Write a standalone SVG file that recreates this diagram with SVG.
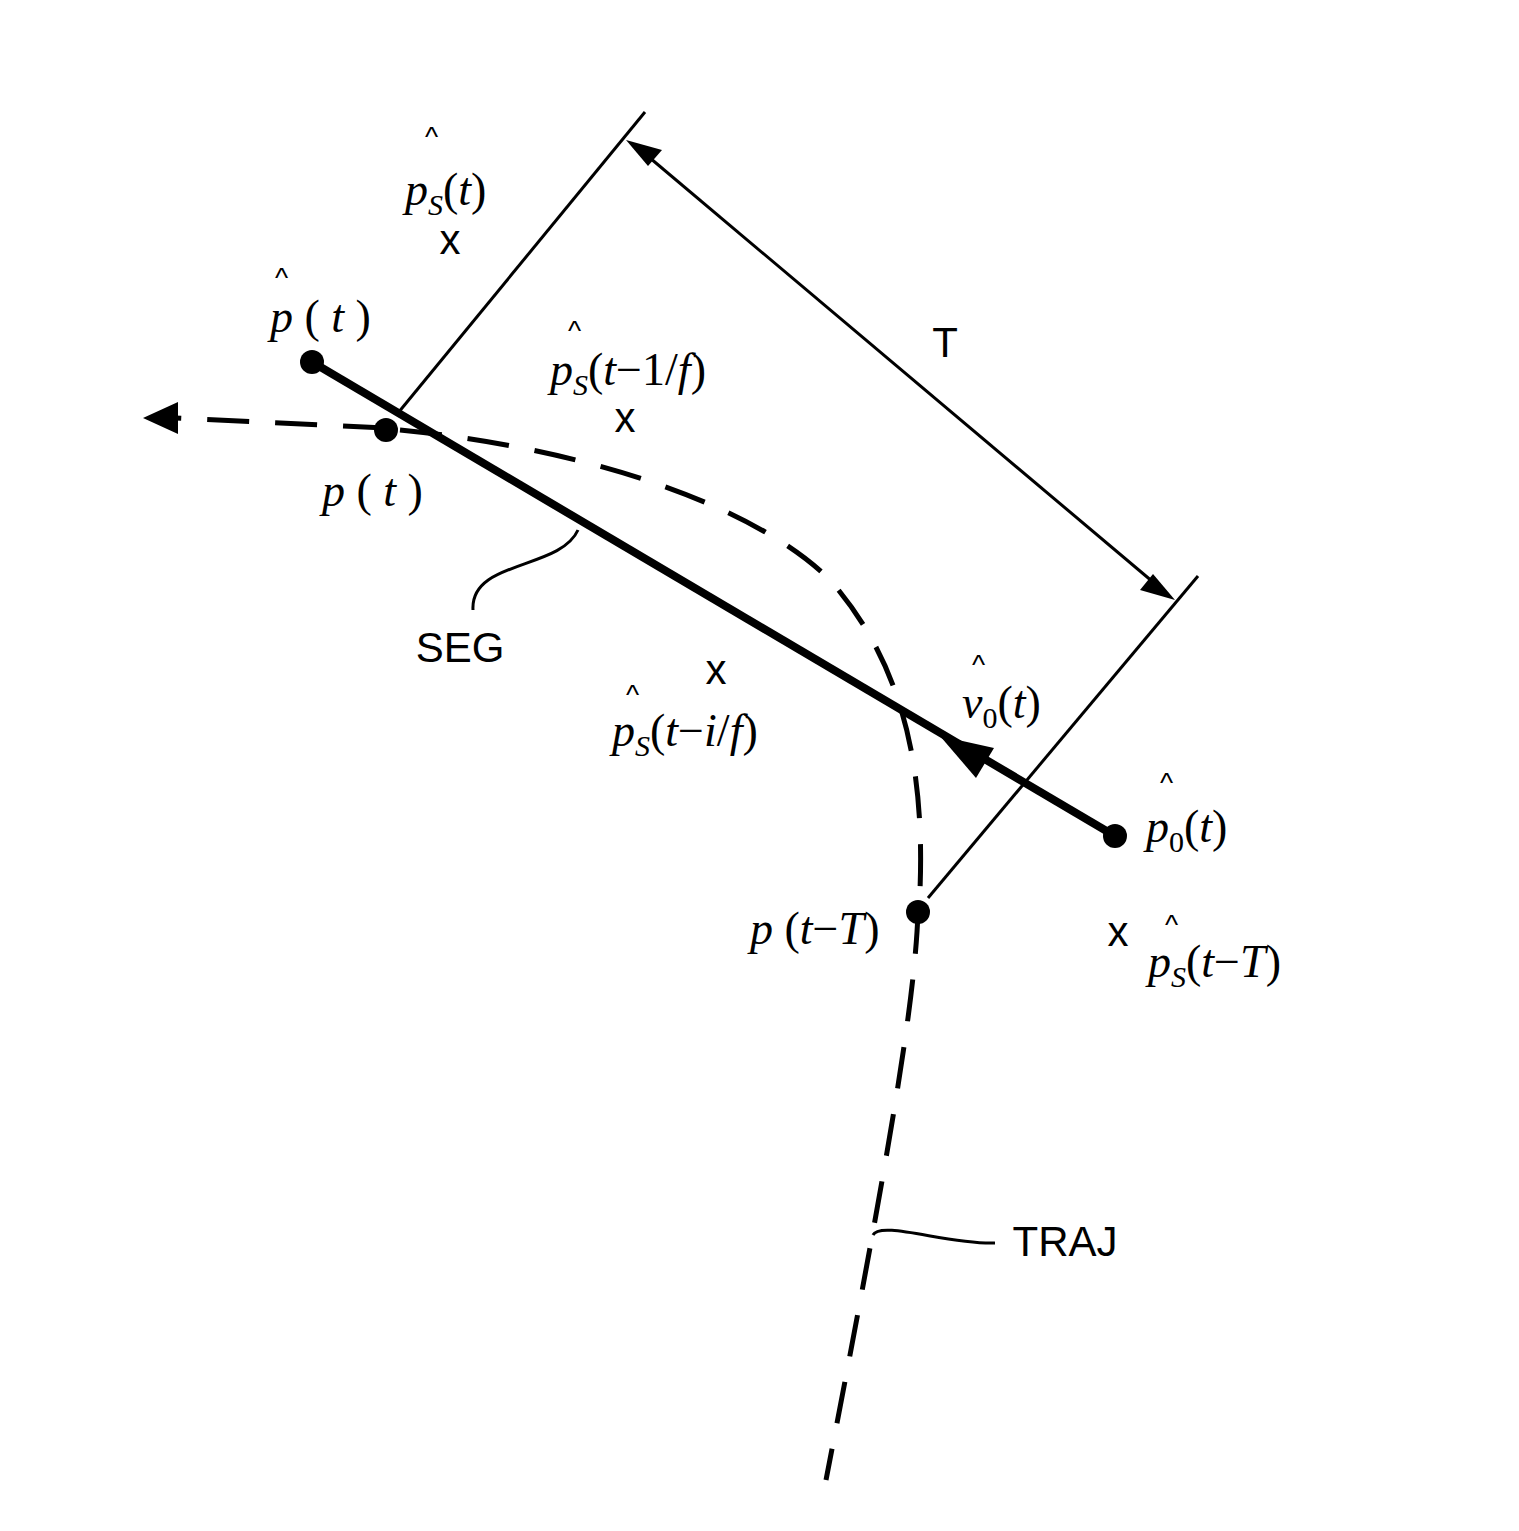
<svg xmlns="http://www.w3.org/2000/svg" width="1519" height="1531" viewBox="0 0 1519 1531">
<style>
.thin{stroke:#000;stroke-width:3;fill:none}
.dash{stroke:#000;stroke-width:5;fill:none;stroke-dasharray:42 26}
.m{font-family:"Liberation Serif",serif;font-style:italic;font-size:46px}
.s{font-family:"Liberation Sans",sans-serif;font-size:42px}
.h{font-family:"Liberation Sans",sans-serif;font-size:28px}
</style>
<rect width="1519" height="1531" fill="#fff"/>
<g id="connectors">
<line class="thin" x1="645" y1="112" x2="398" y2="413"/>
<line class="thin" x1="1198" y1="576" x2="928" y2="898"/>
<line class="thin" x1="650" y1="158" x2="1153" y2="582"/>
<path d="M626,140L662,150L648,166z"/>
<path d="M1175,600L1140,590L1153,574z"/>
<line x1="312" y1="362" x2="1115" y2="836" stroke="#000" stroke-width="8"/>
<path d="M940,736L994,748L976,778z"/>
<path class="dash" d="M385,428L175,418"/>
<path d="M143,418L178,402L178,434z"/>
<path class="dash" d="M400,430C600,450 760,510 830,580C900,660 925,760 920,890"/>
<path class="dash" d="M918,912C915,1000 890,1150 826,1480"/>
<path class="thin" d="M578,530C560,570 470,560 473,610"/>
<path class="thin" d="M873,1235C880,1220 950,1245 995,1243"/>
</g>
<g id="dots">
<circle cx="312" cy="362" r="12"/>
<circle cx="386" cy="430" r="12"/>
<circle cx="1115" cy="836" r="12"/>
<circle cx="918" cy="912" r="12"/>
</g>
<g id="labels">
<text class="s" x="945" y="357" text-anchor="middle">T</text>
<text class="s" x="460" y="662" text-anchor="middle">SEG</text>
<text class="s" x="1065" y="1256" text-anchor="middle">TRAJ</text>
<text class="s" x="450" y="254" text-anchor="middle">x</text>
<text class="s" x="625" y="432" text-anchor="middle">x</text>
<text class="s" x="716" y="684" text-anchor="middle">x</text>
<text class="s" x="1118" y="946" text-anchor="middle">x</text>
<text class="h" x="425" y="146">^</text>
<text class="m" x="405" y="205">p<tspan font-size="30" dy="10">S</tspan><tspan dy="-10" font-style="normal">(</tspan>t<tspan font-style="normal">)</tspan></text>
<text class="h" x="275" y="287">^</text>
<text class="m" x="270" y="332">p <tspan font-style="normal">(</tspan> t <tspan font-style="normal">)</tspan></text>
<text class="h" x="568" y="340">^</text>
<text class="m" x="550" y="385">p<tspan font-size="30" dy="10">S</tspan><tspan dy="-10" font-style="normal">(</tspan>t<tspan font-style="normal">−1/</tspan>f<tspan font-style="normal">)</tspan></text>
<text class="m" x="322" y="506">p <tspan font-style="normal">(</tspan> t <tspan font-style="normal">)</tspan></text>
<text class="h" x="626" y="704">^</text>
<text class="m" x="612" y="746">p<tspan font-size="30" dy="10">S</tspan><tspan dy="-10" font-style="normal">(</tspan>t<tspan font-style="normal">−</tspan>i<tspan font-style="normal">/</tspan>f<tspan font-style="normal">)</tspan></text>
<text class="h" x="972" y="674">^</text>
<text class="m" x="962" y="718">v<tspan font-size="30" dy="10" font-style="normal">0</tspan><tspan dy="-10" font-style="normal">(</tspan>t<tspan font-style="normal">)</tspan></text>
<text class="h" x="1160" y="792">^</text>
<text class="m" x="1146" y="842">p<tspan font-size="30" dy="10" font-style="normal">0</tspan><tspan dy="-10" font-style="normal">(</tspan>t<tspan font-style="normal">)</tspan></text>
<text class="m" x="750" y="944">p <tspan font-style="normal">(</tspan>t<tspan font-style="normal">−</tspan>T<tspan font-style="normal">)</tspan></text>
<text class="h" x="1165" y="934">^</text>
<text class="m" x="1148" y="977">p<tspan font-size="30" dy="10">S</tspan><tspan dy="-10" font-style="normal">(</tspan>t<tspan font-style="normal">−</tspan>T<tspan font-style="normal">)</tspan></text>
</g>
</svg>
